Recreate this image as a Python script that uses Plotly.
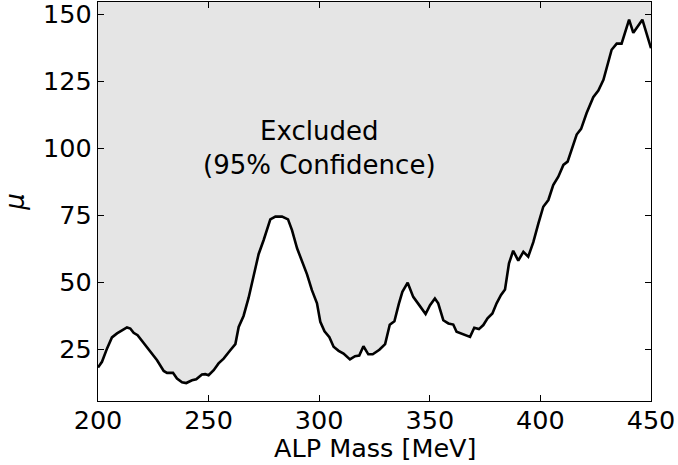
import plotly.graph_objects as go

mass = [200, 201.8, 204.1, 206.3, 208.6, 210.8, 213.1, 214.6, 216.1, 217.9,
        220.6, 223.6, 226.7, 229.7, 231.2, 233.9, 235.7, 238, 239.9, 242.5,
        244.4, 247, 248.5, 250, 252.3, 254.5, 256.8, 259.8, 262.1, 263.6,
        265.8, 268.1, 270.3, 272.6, 274.9, 276.4, 277.9, 280.2, 283.2, 285.9,
        287.7, 290, 292.2, 294.5, 296.7, 299, 300.5, 302.4, 304.6, 306.5,
        308.8, 311, 313.9, 316.2, 318.1, 320, 322.2, 324.2, 327.2, 329.8,
        331.9, 334, 336, 337.6, 340, 342.5, 344.9, 348.1, 350.1, 352.3,
        353.8, 356.1, 358.4, 360.6, 362.1, 365.1, 368.2, 370.1, 372.2, 374.2,
        376.1, 378.3, 380.2, 382.2, 384, 385.8, 387.7, 390, 392.3, 394.5,
        396.8, 399.1, 401.3, 403.6, 405.8, 408.1, 410.4, 412.3, 414.1, 416.4,
        418.4, 420.9, 423.9, 426.2, 428.5, 430.4, 432.2, 434.5, 436.7, 440.1,
        442, 446.1, 448, 450]
mu_limit = [18.3, 20.4, 25.4, 29.5, 31, 32.2, 33.2, 32.8, 31.2, 30.3,
            27.5, 24.5, 21, 17, 16.3, 16.3, 14.2, 12.8, 12.5, 13.5,
            13.9, 15.7, 15.8, 15.4, 17.3, 19.8, 21.6, 24.7, 27, 33.4,
            37.5, 44.3, 52.8, 60.5, 65.8, 69.5, 73.5, 74.5, 74.5, 73.5,
            69.5, 62.7, 58.3, 53, 47.1, 42.2, 35.3, 31.8, 29.6, 26,
            24.5, 23.5, 21.3, 22.5, 22.7, 26.2, 23.2, 23.2, 24.9, 27,
            34.2, 35.5, 42, 46.5, 49.9, 44.6, 41.9, 38.2, 41.5, 44,
            42.2, 35.9, 34.7, 34.3, 31.6, 30.7, 29.7, 33.1, 32.6, 34.1,
            36.6, 38.4, 42.2, 45.3, 47.4, 57.1, 61.8, 58.1, 61.4, 59.6,
            65, 72, 78.2, 80.7, 86.3, 89.4, 93.8, 95, 99.4, 105.1,
            107.2, 113.1, 119, 121.5, 125.5, 131.1, 136.7, 139, 139, 147.9,
            143, 147.9, 142.3, 137.3]

x_ticks = [200, 250, 300, 350, 400, 450]
y_ticks = [25, 50, 75, 100, 125, 150]
y_top = 200

FONT = "DejaVu Sans"

fig = go.Figure()
fig.add_trace(go.Scatter(x=mass, y=[y_top] * len(mass), mode="lines",
                         line=dict(width=0, color="rgba(0,0,0,0)"),
                         hoverinfo="skip", showlegend=False))
fig.add_trace(go.Scatter(x=mass, y=mu_limit, mode="lines",
                         fill="tonexty", fillcolor="#e5e5e5",
                         line=dict(color="black", width=2.6),
                         showlegend=False))

fig.add_annotation(x=300, y=100, text="Excluded<br>(95% Confidence)",
                   showarrow=False, font=dict(family=FONT, size=26, color="black"),
                   align="center", xanchor="center", yanchor="middle")

# x-axis title as an annotation below the tick labels
fig.add_annotation(x=0.5, y=0, xref="paper", yref="paper", text="ALP Mass [MeV]",
                   showarrow=False, font=dict(family=FONT, size=25.5, color="black"),
                   xanchor="center", yanchor="bottom", yshift=-63, borderpad=0)

axis_common = dict(showline=True, linecolor="black", linewidth=1.3, mirror="ticks",
                   ticks="inside", ticklen=6, tickwidth=1.3, tickcolor="black",
                   showgrid=False, zeroline=False, ticklabeloverflow="allow",
                   tickfont=dict(family=FONT, size=25.5, color="black"))

fig.update_xaxes(range=[200, 450], tickvals=x_ticks, ticklabelstandoff=-4, **axis_common)
fig.update_yaxes(range=[5.8, 154.5], tickvals=y_ticks,
                 title=dict(text="<i>μ</i>", font=dict(family=FONT, size=26, color="black")),
                 **axis_common)

fig.update_layout(width=678, height=465, plot_bgcolor="white", paper_bgcolor="white",
                  margin=dict(l=98, r=27, t=2, b=64, autoexpand=False),
                  font=dict(family=FONT, color="black"))

fig.write_html("out.html", config={"displayModeBar": False},
               post_script="document.body.style.margin='0';document.body.style.padding='0';")
